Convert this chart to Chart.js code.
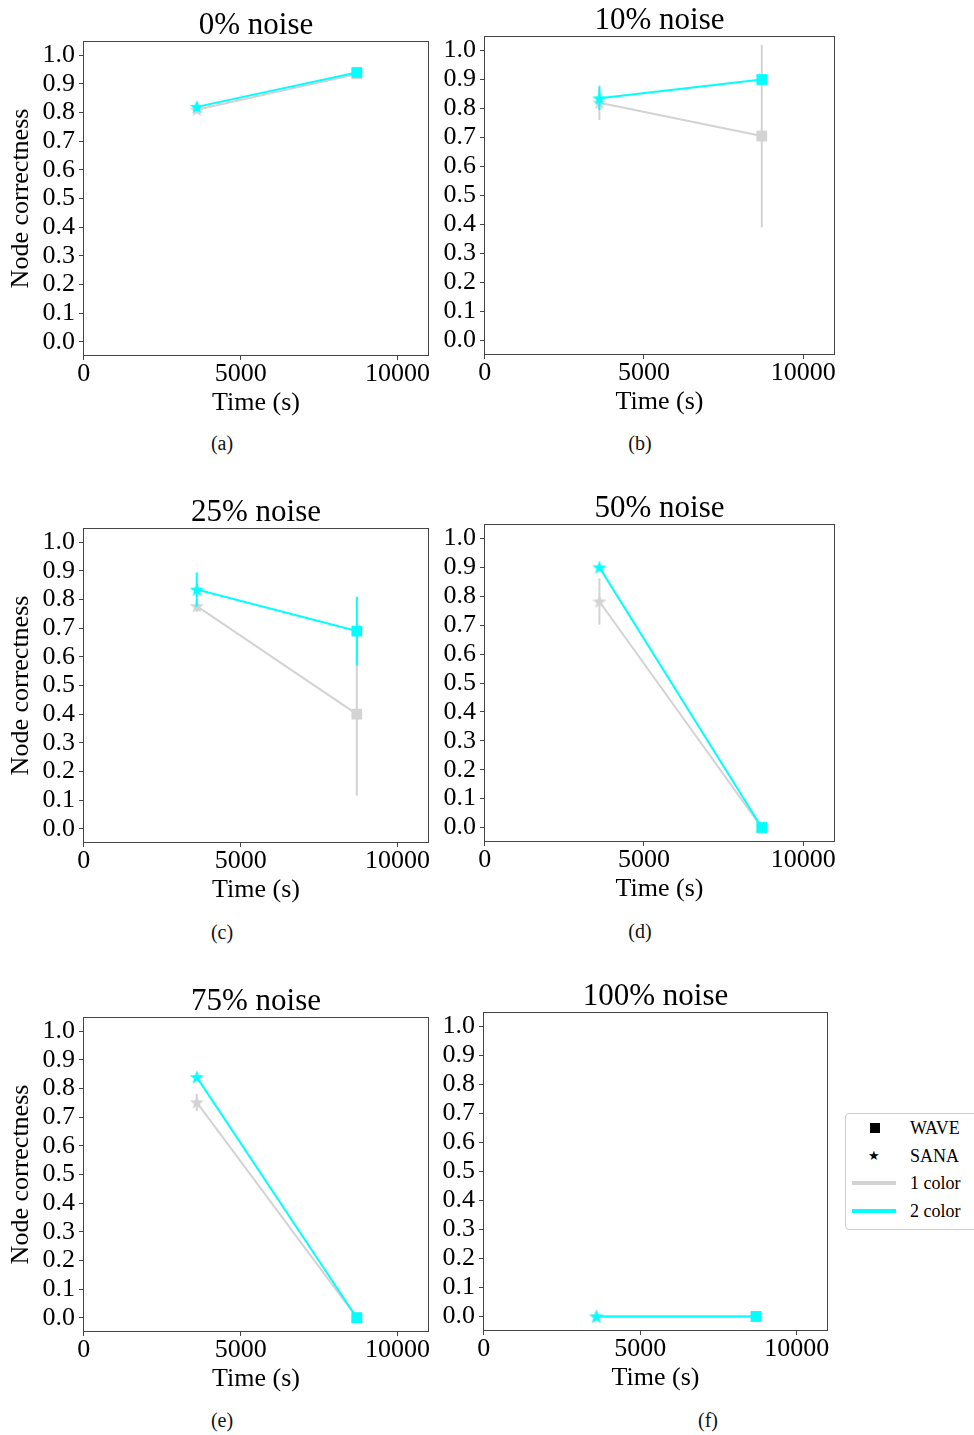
<!DOCTYPE html>
<html>
<head>
<meta charset="utf-8">
<script src="https://cdn.jsdelivr.net/npm/chart.js@4"></script>
<style>
  html, body { margin: 0; padding: 0; background: #fff; }
  body { position: relative; width: 974px; height: 1435px; overflow: hidden; font-family: "Liberation Serif", serif; }
  canvas { position: absolute; }
  .cap { position: absolute; font-size: 20px; transform: translateX(-50%); color: #111; }
  #legend { position: absolute; left: 845px; top: 1113px; width: 150px; height: 115px; border: 1px solid #ccc; border-radius: 4px; background: #fff; z-index: 5; }
  #legend .row { position: absolute; left: 0; height: 20px; width: 150px; }
  #legend .txt { position: absolute; left: 64px; top: 0; font-size: 18px; line-height: 20px; color: #000; }
</style>
</head>
<body>

<div id="legend">
  <div class="row" style="top:4px"><div style="position:absolute;left:24px;top:5px;width:10px;height:10px;background:#000"></div><span class="txt">WAVE</span></div>
  <div class="row" style="top:32px"><div style="position:absolute;left:22px;top:0;font:13px 'DejaVu Sans';line-height:20px">★</div><span class="txt">SANA</span></div>
  <div class="row" style="top:59px"><div style="position:absolute;left:6px;top:8px;width:44px;height:4px;background:#d3d3d3"></div><span class="txt">1 color</span></div>
  <div class="row" style="top:87px"><div style="position:absolute;left:6px;top:8px;width:44px;height:4px;background:#00ffff"></div><span class="txt">2 color</span></div>
</div>

<script>
// data
const titles = ["0% noise", "10% noise", "25% noise", "50% noise", "75% noise", "100% noise"];
const captions = ["(a)", "(b)", "(c)", "(d)", "(e)", "(f)"];
const times = [3600, 8700]; // SANA, WAVE
const oneColor = [[0.81, 0.935], [0.82, 0.705], [0.777, 0.40], [0.782, 0.0], [0.752, 0.0], [0.0, 0.0]];
const oneColorErr = [[0.01, 0], [0.06, 0.315], [0.02, 0.285], [0.08, 0], [0.03, 0], [0, 0]];
const twoColor = [[0.82, 0.94], [0.835, 0.90], [0.835, 0.69], [0.90, 0.0], [0.84, 0.0], [0.0, 0.0]];
const twoColorErr = [[0.015, 0], [0.04, 0], [0.06, 0.12], [0, 0], [0, 0], [0, 0]];
const yTicks = [0, 0.1, 0.2, 0.3, 0.4, 0.5, 0.6, 0.7, 0.8, 0.9, 1.0];
const xTicks = [0, 5000, 10000];

const GRAY = "#d3d3d3", CYAN = "#00ffff", AXIS = "#444";
const FONT = "Liberation Serif";

// plot boxes (chart area) of each panel
const boxes = [
  {l: 83, r: 429, t: 40, b: 356},
  {l: 484, r: 835, t: 35, b: 355},
  {l: 83, r: 429, t: 527, b: 843},
  {l: 484, r: 835, t: 523, b: 842},
  {l: 83, r: 429, t: 1016, b: 1332},
  {l: 483, r: 828, t: 1011, b: 1331}
];
const capPos = [[222, 432], [640, 432], [222, 921], [640, 920], [222, 1409], [708, 1409]];

function starImg(color) {
  const c = document.createElement("canvas");
  c.width = 16; c.height = 16;
  const g = c.getContext("2d");
  g.fillStyle = color;
  g.beginPath();
  for (let i = 0; i < 10; i++) {
    const r = i % 2 ? 3 : 7.5;
    const a = -Math.PI / 2 + i * Math.PI / 5;
    g.lineTo(8 + r * Math.cos(a), 8.5 + r * Math.sin(a));
  }
  g.closePath();
  g.fill();
  return c;
}

const errorBars = {
  id: "errorBars",
  afterDatasetDraw(chart, args) {
    const ds = chart.data.datasets[args.index];
    if (!ds.errors) return;
    const {ctx, scales: {x, y}} = chart;
    ctx.save();
    ctx.strokeStyle = ds.borderColor;
    ctx.lineWidth = 2;
    ds.data.forEach((p, i) => {
      const e = ds.errors[i];
      if (!e) return;
      const px = x.getPixelForValue(p.x);
      ctx.beginPath();
      ctx.moveTo(px, y.getPixelForValue(p.y - e));
      ctx.lineTo(px, y.getPixelForValue(p.y + e));
      ctx.stroke();
    });
    ctx.restore();
  }
};

const frame = {
  id: "frame",
  afterDraw(chart) {
    const {ctx, chartArea: a} = chart;
    ctx.save();
    ctx.strokeStyle = AXIS;
    ctx.lineWidth = 1;
    ctx.strokeRect(Math.round(a.left) + 0.5, Math.round(a.top) + 0.5, Math.round(a.width) - 1, Math.round(a.height) - 1);
    ctx.restore();
  }
};

function series(label, vals, errs, color) {
  return {
    label,
    data: times.map((t, i) => ({x: t, y: vals[i]})),
    errors: errs,
    borderColor: color,
    backgroundColor: color,
    borderWidth: 2,
    pointStyle: [starImg(color), "rect"],
    pointRadius: 7.6,
    pointHoverRadius: 7.6,
    pointBorderWidth: 0,
    pointBackgroundColor: color,
    tension: 0
  };
}

titles.forEach((title, k) => {
  const box = boxes[k];
  const leftCol = k % 2 === 0;
  const yW = leftCol ? 83 : 44;
  const cl = box.l - yW, ct = box.t - 30;
  const cw = box.r - cl + 40, ch = 30 + (box.b - box.t) + 63;

  const cv = document.createElement("canvas");
  cv.width = cw; cv.height = ch;
  cv.style.left = cl + "px"; cv.style.top = ct + "px";
  document.body.appendChild(cv);

  const cap = document.createElement("div");
  cap.className = "cap";
  cap.textContent = captions[k];
  cap.style.left = capPos[k][0] + "px";
  cap.style.top = capPos[k][1] + "px";
  document.body.appendChild(cap);

  new Chart(cv, {
    type: "line",
    data: {
      datasets: [
        series("2 color", twoColor[k], twoColorErr[k], CYAN),
        series("1 color", oneColor[k], oneColorErr[k], GRAY)
      ]
    },
    options: {
      responsive: false,
      animation: false,
      layout: {padding: {left: 0, right: 40, top: 0, bottom: 0}},
      plugins: {
        legend: {display: false},
        tooltip: {enabled: false},
        title: {
          display: true, text: title, fullSize: false, color: "#000",
          font: {family: FONT, size: 31, weight: "normal", lineHeight: 1},
          padding: 0
        }
      },
      scales: {
        x: {
          type: "linear", min: -25, max: 11000,
          afterBuildTicks: s => { s.ticks = xTicks.map(v => ({value: v})); },
          afterFit: s => { s.height = 63; },
          grid: {drawOnChartArea: false, drawTicks: true, tickLength: 4, color: AXIS},
          border: {display: false},
          ticks: {autoSkip: false, maxRotation: 0, padding: 0, color: "#000",
            font: {family: FONT, size: 26, lineHeight: 1.1},
            callback: v => String(v)},
          title: {display: true, text: "Time (s)", color: "#000", padding: 0,
            font: {family: FONT, size: 26, lineHeight: 1.2}}
        },
        y: {
          type: "linear", min: -0.05, max: 1.05,
          afterBuildTicks: s => { s.ticks = yTicks.map(v => ({value: v})); },
          afterFit: s => { s.width = yW; },
          grid: {drawOnChartArea: false, drawTicks: true, tickLength: 4, color: AXIS},
          border: {display: false},
          ticks: {autoSkip: false, padding: 4, color: "#000",
            font: {family: FONT, size: 26, lineHeight: 1.1},
            callback: v => v.toFixed(1)},
          title: {display: leftCol, text: "Node correctness", color: "#000",
            padding: {top: 6, bottom: 0},
            font: {family: FONT, size: 26, lineHeight: 1.2}}
        }
      }
    },
    plugins: [errorBars, frame]
  });
});
</script>
</body>
</html>
